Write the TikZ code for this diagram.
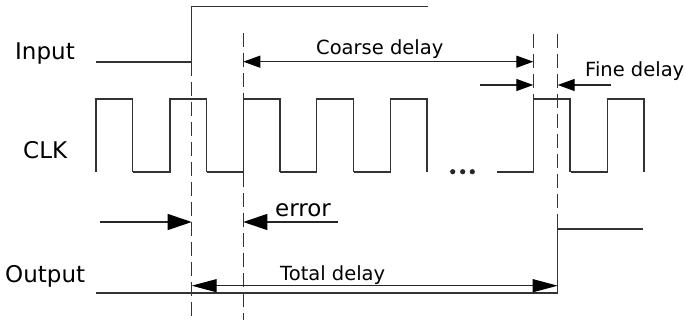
\documentclass[tikz,border=0pt]{standalone}
\usepackage{fontspec}
\setmainfont{DejaVu Sans}
\usetikzlibrary{arrows.meta}
\def\high{99}
\def\low{172}
\def\width{36.7}
\def\pulselist{170, 243.3, 316.7, 390.3, 533.3, 607.3}
\tikzstyle{wave}=[draw,line width=1.2pt,black!80]
\tikzstyle{marker}=[draw,line width=1.1pt,black!80,dash pattern=on 14pt off 6pt]
\tikzstyle{small-tip}=[>={Triangle[length=17pt,width=12pt,color=black]}]
\tikzstyle{big-tip}=[>={Triangle[length=24pt,width=16pt,color=black]}]
\tikzstyle{long-tip}=[>={Triangle[length=25pt,width=13pt,color=black]}]
\tikzstyle{delay}=[draw,line width=1.3pt,black!85,<->]
\tikzstyle{single}=[draw,line width=1.3pt,black!85,->]
\tikzstyle{signame}=[anchor=base west,inner sep=0pt,font=\fontsize{23}{26}\selectfont]
\tikzstyle{delayname}=[anchor=base west,inner sep=0pt,font=\fontsize{19.5}{22}\selectfont]

\begin{document}
\begin{tikzpicture}[x=1pt,y=-1pt]
  \useasboundingbox (0,0) rectangle (686,320);

  % Signal names
  \node[signame] (input) at (15,60) {Input};
  \node[signame] (clk) at (23,159) {CLK};
  \node[signame] (output) at (5,282.7) {Output};

  % Edges we measure from
  \coordinate (in-rise) at (191.7,62);
  \coordinate (out-rise) at (557.7,229);

  % Input step
  \path[wave] (96,62) -- (in-rise) -- (191.7,6.7) -- (427.7,6.7);

  % Clock: first pulse, then one low and one pulse each
  \path[wave] (96,\low) -- (96,\high) -- (96+\width,\high) -- (96+\width,\low);
  \foreach \x in \pulselist
    \path[wave] (\x-\width,\low) -- (\x,\low) -- (\x,\high) -- (\x+\width,\high) -- (\x+\width,\low);
  \foreach \x in {452.7, 462.7, 472.3}
    \fill[black!85] (\x,171.7) circle (2.6pt);

  % Output step
  \path[wave] (96,293) -- (557.7,293) -- (out-rise) -- (643.3,229);

  % Dashed markers
  \coordinate (m1-top) at (191.7,62);
  \coordinate (m1-bot) at (191.7,320);
  \coordinate (m2-top) at (243.3,33);
  \coordinate (m2-bot) at (243.3,320);
  \coordinate (m3-top) at (533.3,34);
  \coordinate (m3-bot) at (533.3,\high);
  \coordinate (m4-top) at (557.7,34);
  \path[marker] (m1-top) -- (m1-bot);
  \path[marker] (m2-top) -- (m2-bot);
  \path[marker] (m3-top) -- (m3-bot);
  \path[marker] (m4-top) -- (out-rise);

  % Coarse delay
  \coordinate (coarse-a) at (243.3,61.7);
  \coordinate (coarse-b) at (533.3,61.7);
  \path[delay,small-tip] (coarse-a) -- (coarse-b);
  \node[delayname] (coarse) at (316,55) {Coarse delay};

  % Fine delay
  \coordinate (fine-a) at (480,85);
  \coordinate (fine-b) at (533.3,85);
  \coordinate (fine-c) at (610.7,85);
  \coordinate (fine-d) at (557.7,85);
  \path[single,small-tip] (fine-a) -- (fine-b);
  \path[single,small-tip] (fine-c) -- (fine-d);
  \node[delayname] (fine) at (585,77) {Fine delay};

  % Error
  \coordinate (err-a) at (100,222);
  \coordinate (err-b) at (191.7,222);
  \coordinate (err-c) at (338,222);
  \coordinate (err-d) at (243.3,222);
  \path[single,big-tip] (err-a) -- (err-b);
  \path[single,big-tip] (err-c) -- (err-d);
  \node[signame] (error) at (275,217) {error};

  % Total delay
  \coordinate (total-a) at (191.7,285.7);
  \coordinate (total-b) at (557.7,285.7);
  \path[delay,long-tip] (total-a) -- (total-b);
  \node[delayname] (total) at (280,280.7) {Total delay};
\end{tikzpicture}
\end{document}
